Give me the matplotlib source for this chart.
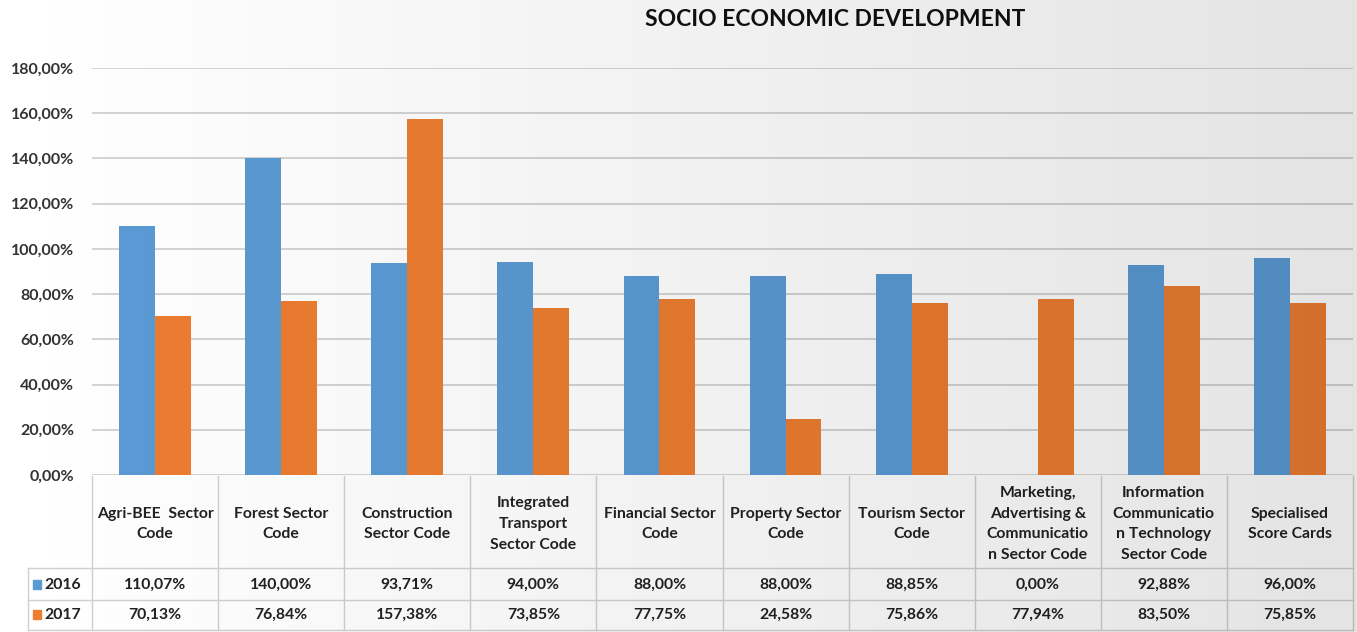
import matplotlib
matplotlib.use("Agg")
import matplotlib.pyplot as plt
import numpy as np
from matplotlib.transforms import blended_transform_factory
from matplotlib.patches import Rectangle
from matplotlib.lines import Line2D

categories = ["Agri-BEE  Sector\nCode", "Forest Sector\nCode", "Construction\nSector Code",
              "Integrated\nTransport\nSector Code", "Financial Sector\nCode", "Property Sector\nCode",
              "Tourism Sector\nCode", "Marketing,\nAdvertising &\nCommunicatio\nn Sector Code",
              "Information\nCommunicatio\nn Technology\nSector Code", "Specialised\nScore Cards"]
series_names = ["2016", "2017"]
values_2016 = [110.07, 140.00, 93.71, 94.00, 88.00, 88.00, 88.85, 0.00, 92.88, 96.00]
values_2017 = [70.13, 76.84, 157.38, 73.85, 77.75, 24.58, 75.86, 77.94, 83.50, 75.85]
yticks = [0, 20, 40, 60, 80, 100, 120, 140, 160, 180]
title = "SOCIO ECONOMIC DEVELOPMENT"

BLUE = "#5B9BD5"
ORANGE = "#ED7D31"
FONT = "Lato"
TXT = "#222222"

W, H = 1357, 632
fig = plt.figure(figsize=(W / 100, H / 100), dpi=100)
fig.patch.set_facecolor("white")

def fx(px):
    return px / W

def fy(py):
    return 1 - py / H

ax = fig.add_axes([fx(92), fy(475), fx(1353) - fx(92), fy(68) - fy(475)])
ax.set_facecolor("none")

x = np.arange(len(categories))
bw = 0.285
ax.bar(x - bw / 2, values_2016, bw, color=BLUE, zorder=3)
ax.bar(x + bw / 2, values_2017, bw, color=ORANGE, zorder=3)

ax.set_xlim(-0.5, len(categories) - 0.5)
ax.set_ylim(0, 180)
ax.set_yticks(yticks)
ax.set_yticklabels([f"{v:.2f}".replace(".", ",") + "%" for v in yticks],
                   fontsize=11.5, fontweight="bold", color="#333333", family=FONT)
ax.tick_params(axis="y", length=0, pad=13)
ax.set_xticks([])
for s in ax.spines.values():
    s.set_visible(False)
ax.grid(axis="y", color="#d4d4d4", linewidth=1.4, zorder=0)
ax.set_axisbelow(True)

fig.text(fx(835), fy(20), title, ha="center", va="center", fontsize=16.5,
         fontweight="bold", color="#111111", family=FONT)

# data table
tr = blended_transform_factory(ax.transData, fig.transFigure)
lc = "#d0d0d0"
lw = 1.0
n = len(categories)
for i in range(n + 1):
    fig.add_artist(Line2D([i - 0.5, i - 0.5], [fy(476), fy(630)], transform=tr,
                          color=lc, lw=lw, clip_on=False))
for yy in [568, 600, 630]:
    fig.add_artist(Line2D([fx(28), 1.0 - fx(4)], [fy(yy), fy(yy)], transform=fig.transFigure,
                          color=lc, lw=lw))
fig.add_artist(Line2D([fx(28), fx(28)], [fy(568), fy(630)], transform=fig.transFigure,
                      color=lc, lw=lw))

TS = 11.3
for i, c in enumerate(categories):
    ax.text(i, fy(524), c, transform=tr, ha="center", va="center", fontsize=TS,
            color=TXT, family=FONT, linespacing=1.6, fontweight="bold", clip_on=False)
    ax.text(i, fy(585), f"{values_2016[i]:.2f}".replace(".", ",") + "%", transform=tr,
            ha="center", va="center", fontsize=TS, color=TXT, family=FONT,
            fontweight="bold", clip_on=False)
    ax.text(i, fy(615), f"{values_2017[i]:.2f}".replace(".", ",") + "%", transform=tr,
            ha="center", va="center", fontsize=TS, color=TXT, family=FONT,
            fontweight="bold", clip_on=False)

for j, (name, col) in enumerate(zip(series_names, [BLUE, ORANGE])):
    yc = 585 + 30 * j
    fig.add_artist(Rectangle((fx(33), fy(yc + 4)), fx(8), fy(yc - 5) - fy(yc + 4),
                             transform=fig.transFigure, color=col))
    fig.text(fx(44), fy(yc), name, ha="left", va="center", fontsize=TS,
             fontweight="bold", color=TXT, family=FONT)

# subtle horizontal gradient shading (white left -> light gray right)
ov = fig.add_axes([0, 0, 1, 1], zorder=20)
ov.axis("off")
grad = np.zeros((2, 256, 4))
grad[..., 3] = np.linspace(0, 0.11, 256)[None, :]
ov.imshow(grad, aspect="auto", extent=[0, 1, 0, 1])
ov.set_xlim(0, 1)
ov.set_ylim(0, 1)

fig.savefig("out.png", dpi=100)
